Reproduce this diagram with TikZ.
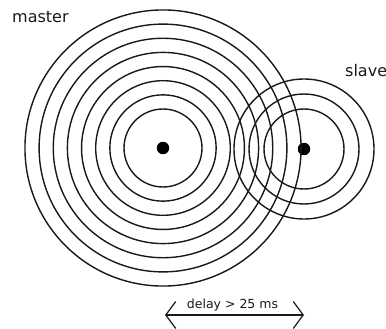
\documentclass[tikz,border=0pt]{standalone}
\usepackage{fontspec}
\setmainfont{DejaVu Sans}
\usepackage{tikz}
\usetikzlibrary{arrows.meta, positioning}
\definecolor{ink}{RGB}{25, 25, 25}

\begin{document}
\begin{tikzpicture}[x=1pt, y=-1pt,
  ring/.style={draw=ink, line width=1.4pt},
  dot/.style={circle, fill=black, inner sep=0pt, minimum size=12.5pt},
  lbl/.style={font=\fontsize{16pt}{18pt}\selectfont, text=ink,
    inner sep=0pt, anchor=base west},
  arr/.style={{Straight Barb[length=10pt, width=27pt]}-{Straight Barb[length=10pt, width=27pt]},
    line width=1.2pt, draw=ink}
]
\useasboundingbox (0,0) rectangle (386,329);

\node[dot] at (163,148) (master) {};
\node[dot] at (304,149) (slave)  {};

% wave fronts
\foreach \k in {0,...,7}
  \draw[ring] (master) circle[radius={39+14.15*\k}];
\foreach \k in {0,1,2}
  \draw[ring] (slave) circle[radius={40+15*\k}];

\node[lbl] at (12,22.3)  (mlbl) {master};
\node[lbl] at (345,76.7) (slbl) {slave};

\coordinate (dl) at (165,315);
\coordinate (dr) at (304,315);
\draw[arr] (dl) -- node[font=\fontsize{12.5pt}{14pt}\selectfont, text=ink,
  inner sep=0pt, anchor=base, xshift=-2pt, yshift=6.7pt] (dlbl) {delay > 25 ms} (dr);
\end{tikzpicture}
\end{document}
